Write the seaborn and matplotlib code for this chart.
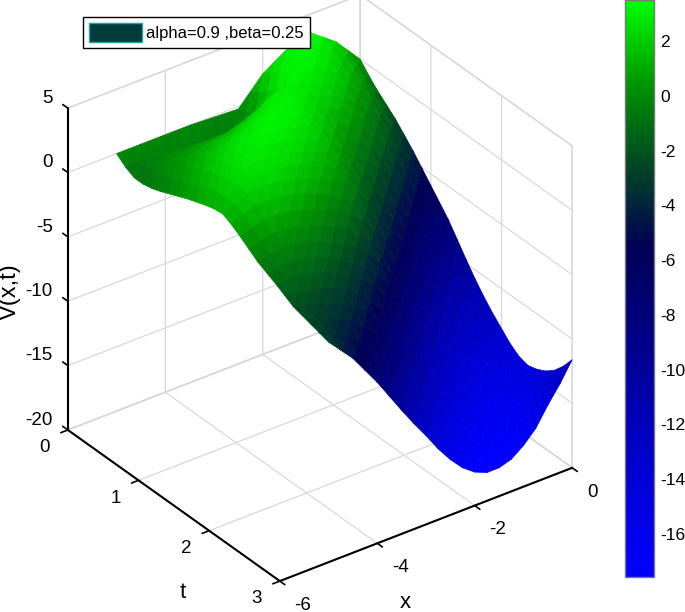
import numpy as np
import matplotlib
matplotlib.use("Agg")
import matplotlib.pyplot as plt
from matplotlib.patches import Patch
import seaborn as sns
import logging

logging.getLogger("matplotlib.font_manager").setLevel(logging.ERROR)

x_vals = [-5, -4.75, -4.5, -4.25, -4, -3.75, -3.5, -3.25, -3, -2.75, -2.5,
          -2.25, -2, -1.75, -1.5, -1.25, -1, -0.75, -0.5, -0.25, 0]
t_vals = [0, 0.125, 0.25, 0.375, 0.5, 0.625, 0.75, 0.875, 1, 1.125, 1.25, 1.375, 1.5,
          1.625, 1.75, 1.875, 2, 2.125, 2.25, 2.375, 2.5, 2.625, 2.75, 2.875, 3]

# V(x,t), one list per x
v_xm500 = [0, -.55, -.9, -.9, -.75, -.5, -.2, .1, .4, .65, .9, 1.1, 1.2, .85, .4, -.1, -.6, -.95, -1.3, -1.7, -2.1, -2.3, -2.5, -2.7, -2.9]
v_xm475 = [0, -.5, -.57, -.42, -.22, .08, .4, .72, 1.05, 1.32, 1.55, 1.62, 1.6, 1.25, .73, .2, -.4, -.9, -1.35, -1.9, -2.4, -2.78, -3.15, -3.52, -3.9]
v_xm450 = [0, -.42, -.24, .05, .3, .65, 1, 1.35, 1.7, 2, 2.2, 2.15, 2, 1.65, 1.06, .4, -.18, -.75, -1.34, -2.1, -2.7, -3.25, -3.8, -4.35, -4.9]
v_xm425 = [0, -.42, -.15, .3, .65, 1.05, 1.45, 1.85, 2.2, 2.42, 2.5, 2.35, 2.1, 1.6, 1, .3, -.3, -.95, -1.6, -2.3, -3, -3.72, -4.5, -5.32, -6.2]
v_xm400 = [0, -.44, -.13, .45, .9, 1.35, 1.8, 2.25, 2.6, 2.75, 2.7, 2.45, 2.1, 1.5, .87, .2, -.46, -1.2, -1.88, -2.6, -3.3, -4.2, -5.2, -6.3, -7.5]
v_xm375 = [0, -.47, -.13, .55, 1.1, 1.65, 2.2, 2.6, 2.85, 2.88, 2.7, 2.38, 1.95, 1.3, .62, -.1, -.86, -1.65, -2.38, -3.15, -3.95, -5.05, -6.25, -7.55, -8.95]
v_xm350 = [0, -.5, -.2, .55, 1.2, 1.85, 2.5, 2.85, 3, 2.9, 2.6, 2.2, 1.7, 1.05, .3, -.45, -1.3, -2.1, -2.9, -3.8, -4.6, -5.9, -7.3, -8.8, -10.4]
v_xm325 = [-.05, -.53, -.27, .62, 1.55, 2.22, 2.8, 3.02, 3, 2.75, 2.35, 1.88, 1.35, .65, -.12, -.95, -1.84, -2.8, -3.62, -4.8, -5.9, -7.3, -8.75, -10.25, -11.8]
v_xm300 = [-.1, -.57, -.34, .7, 1.9, 2.6, 3.1, 3.2, 3, 2.6, 2.1, 1.55, 1, .25, -.54, -1.4, -2.38, -3.4, -4.34, -5.8, -7.2, -8.7, -10.2, -11.7, -13.1]
v_xm275 = [-.15, -.32, .12, 1.2, 2.35, 2.82, 3.05, 2.95, 2.65, 2.18, 1.65, 1.05, .45, -.45, -1.28, -2.34, -3.31, -4.48, -5.58, -7.05, -8.5, -10.02, -11.55, -13.05, -14.5]
v_xm250 = [-.2, -.05, .65, 1.8, 2.9, 3.15, 3.1, 2.8, 2.4, 1.85, 1.3, .65, 0, -.95, -1.95, -3.1, -4.2, -5.5, -6.8, -8.3, -9.8, -11.35, -12.9, -14.35, -15.7]
v_xm225 = [.8, 1.18, 1.8, 2.42, 2.9, 2.85, 2.6, 2.2, 1.7, 1.1, .45, -.32, -1.15, -2.15, -3.14, -4.36, -5.58, -6.99, -8.45, -9.9, -11.35, -12.78, -14.2, -15.55, -16.7]
v_xm200 = [1.8, 2.42, 3.04, 3.15, 3, 2.65, 2.2, 1.7, 1.1, .45, -.3, -1.2, -2.2, -3.2, -4.26, -5.55, -6.92, -8.46, -10, -11.5, -12.9, -14.2, -15.4, -16.5, -17.4]
v_xm175 = [2.4, 2.82, 3.1, 2.92, 2.6, 2.15, 1.6, .98, .25, -.52, -1.35, -2.3, -3.35, -4.45, -5.65, -7, -8.4, -9.88, -11.3, -12.7, -13.95, -15.1, -16.2, -17.1, -17.8]
v_xm150 = [3, 3.25, 3.3, 2.9, 2.4, 1.85, 1.2, .45, -.4, -1.3, -2.2, -3.2, -4.3, -5.55, -6.9, -8.35, -9.8, -11.25, -12.6, -13.9, -15, -16, -16.9, -17.5, -17.8]
v_xm125 = [3.25, 3.15, 2.9, 2.42, 1.85, 1.22, .5, -.32, -1.25, -2.2, -3.2, -4.32, -5.55, -6.88, -8.25, -9.65, -11, -12.32, -13.55, -14.65, -15.55, -16.4, -17, -17.35, -17.5]
v_xm100 = [3.5, 3.05, 2.5, 1.95, 1.3, .6, -.2, -1.1, -2.1, -3.1, -4.2, -5.45, -6.8, -8.2, -9.6, -10.95, -12.2, -13.4, -14.5, -15.4, -16.1, -16.65, -17, -17, -16.8]
v_xm075 = [2.8, 2.32, 1.75, 1.15, .45, -.3, -1.15, -2.05, -3.05, -4.1, -5.25, -6.5, -7.8, -9.12, -10.45, -11.7, -12.85, -13.88, -14.75, -15.48, -16, -16.3, -16.4, -16.2, -15.85]
v_xm050 = [2.1, 1.6, 1, .35, -.4, -1.2, -2.1, -3, -4, -5.1, -6.3, -7.55, -8.8, -10.05, -11.3, -12.45, -13.5, -14.35, -15, -15.55, -15.9, -15.85, -15.6, -15.1, -14.4]
v_xm025 = [1.05, .4, -.25, -.88, -1.55, -2.32, -3.15, -4.02, -4.95, -5.92, -6.95, -8.1, -9.25, -10.38, -11.45, -12.42, -13.3, -14.08, -14.65, -15.02, -15.1, -14.9, -14.5, -13.9, -13.1]
v_x000 = [0, -.8, -1.5, -2.1, -2.7, -3.45, -4.2, -5.05, -5.9, -6.75, -7.6, -8.65, -9.7, -10.7, -11.6, -12.4, -13.1, -13.8, -14.3, -14.5, -14.3, -13.95, -13.4, -12.6, -11.6]

x_ticks = [-6, -4, -2, 0]
t_ticks = [0, 1, 2, 3]
v_ticks = [-20, -15, -10, -5, 0, 5]
cbar_ticks = [-16, -14, -12, -10, -8, -6, -4, -2, 0, 2]
cbar_colors = ["#0000ff", "#0000dc", "#0000b4", "#000082", "#000055", "#004623", "#009600", "#00ff00"]

sns.set_theme(style="white")
plt.rcParams["font.family"] = ["Liberation Sans"]
plt.rcParams["axes.unicode_minus"] = False
plt.rcParams["text.color"] = "black"
plt.rcParams["xtick.color"] = "black"
plt.rcParams["ytick.color"] = "black"
plt.rcParams["grid.color"] = "#d9d9d9"
plt.rcParams["grid.linewidth"] = 0.9

cmap = sns.blend_palette(cbar_colors, as_cmap=True)

X, T = np.meshgrid(x_vals, t_vals)
V = np.array([v_xm500, v_xm475, v_xm450, v_xm425, v_xm400, v_xm375, v_xm350, v_xm325, v_xm300, v_xm275, v_xm250,
              v_xm225, v_xm200, v_xm175, v_xm150, v_xm125, v_xm100, v_xm075, v_xm050, v_xm025, v_x000]).T

# cut each grid cell along the direction the colour bands run in
nx, nt = len(x_vals), len(t_vals)
tris = []
for j in range(nt - 1):
    for i in range(nx - 1):
        a, b, c, d = j * nx + i, j * nx + i + 1, (j + 1) * nx + i, (j + 1) * nx + i + 1
        tris += [[a, b, c], [b, d, c]]

W, H = 685, 612
fig = plt.figure(figsize=(6.85, 6.12), dpi=100)
ax = fig.add_axes([3.7 / W, 7.7 / H, 616 / W, 616 / H], projection="3d", proj_type="ortho")
ax.set_box_aspect((363, 357, 378))
ax.view_init(elev=31.7, azim=-126.4)

surf = ax.plot_trisurf(X.ravel(), T.ravel(), V.ravel(), triangles=tris, cmap=cmap, vmin=-17.57, vmax=3.5,
                       linewidth=0.5, antialiased=True, shade=False)
# edges in the face colours, otherwise the antialiased triangles leave seams
surf.set_edgecolor(surf.to_rgba(surf.get_array()))

ax.set_xlim(-6, 0, view_margin=0)
ax.set_ylim(3, 0, view_margin=0)
ax.set_zlim(-20, 5, view_margin=0)
ax.set_xticks(x_ticks)
ax.set_yticks(t_ticks)
ax.set_zticks(v_ticks)

for axis in (ax.xaxis, ax.yaxis, ax.zaxis):
    axis.set_pane_color((1, 1, 1, 1))
    axis.pane.set_edgecolor("#d5d5d5")
    axis.line.set_color("black")
    axis.line.set_linewidth(1.5)
    axis._axinfo["tick"]["linewidth"] = {True: 1.2, False: 0.5}
    axis._axinfo["tick"]["color"] = "black"

# the flipped t axis turns the tick direction round on the floor edges
for axis in (ax.xaxis, ax.yaxis):
    axis._axinfo["tick"]["inward_factor"] = 0.3
    axis._axinfo["tick"]["outward_factor"] = 0.0
ax.zaxis._axinfo["tick"]["inward_factor"] = 0.0
ax.zaxis._axinfo["tick"]["outward_factor"] = 0.3

ax.zaxis.set_ticks_position("lower")
ax.tick_params(axis="x", labelsize=13.5, pad=8)
ax.tick_params(axis="y", labelsize=13.5, pad=6)
ax.tick_params(axis="z", labelsize=13.5, pad=-1)
for lab in ax.get_xticklabels():
    lab.set_ha("left")
    lab.set_va("bottom")
for lab in ax.get_yticklabels():
    lab.set_ha("right")
    lab.set_va("bottom")
for lab in ax.get_zticklabels():
    lab.set_ha("right")
    lab.set_va("bottom")

fig.text(405 / W, 1 - 603 / H, "x", fontsize=16, ha="center", va="center")
fig.text(183 / W, 1 - 592 / H, "t", fontsize=16, ha="center", va="center")
fig.text(10 / W, 1 - 292 / H, "V(x,t)", fontsize=17, rotation=90, ha="center", va="center")

handle = Patch(facecolor="#003c3c", edgecolor="#1fa3a3", label="alpha=0.9 ,beta=0.25")
ax.legend(handles=[handle], loc="upper left", bbox_to_anchor=(83 / W, 1 - 17 / H), bbox_transform=fig.transFigure,
          fontsize=12, fancybox=False, framealpha=1, edgecolor="black", borderpad=0.36, handlelength=3.2,
          handleheight=1.4, handletextpad=0.25, borderaxespad=0)

cax = fig.add_axes([625 / W, 1 - 577 / H, 29 / W, 577 / H])
cbar = fig.colorbar(surf, cax=cax, ticks=cbar_ticks)
cbar.ax.tick_params(labelsize=12.5, direction="in", length=5, width=1.2, color="black", right=True, pad=4.3, labelcolor="black")
cbar.outline.set_edgecolor("#777777")
cbar.outline.set_linewidth(1)

plt.savefig("out.png", dpi=100)
